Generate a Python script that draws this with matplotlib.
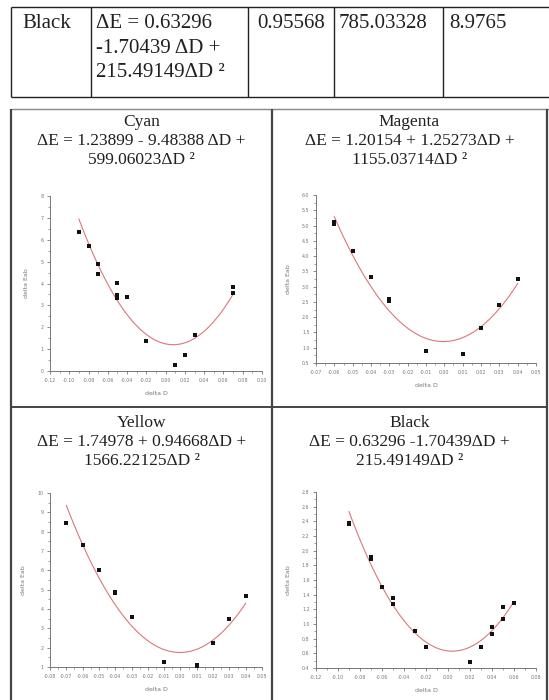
import numpy as np
import matplotlib
matplotlib.use("Agg")
import matplotlib.pyplot as plt
from matplotlib.lines import Line2D
from matplotlib.ticker import MultipleLocator, FormatStrFormatter

W, H = 549, 700

# top table row
row_cells = ["Black", "ΔE = 0.63296\n-1.70439 ΔD +\n215.49149ΔD ²", "0.95568", "785.03328", "8.9765"]

# panel titles
cyan_title = ["Cyan", "ΔE = 1.23899 - 9.48388 ΔD +", "599.06023ΔD ²"]
magenta_title = ["Magenta", "ΔE = 1.20154 + 1.25273ΔD +", "1155.03714ΔD ²"]
yellow_title = ["Yellow", "ΔE = 1.74978 + 0.94668ΔD +", "1566.22125ΔD ²"]
black_title = ["Black", "ΔE = 0.63296 -1.70439ΔD +", "215.49149ΔD ²"]

# fit coefficients (c0, c1, c2)
cyan_fit = [1.23899, -9.48388, 599.06023]
magenta_fit = [1.20154, 1.25273, 1155.03714]
yellow_fit = [1.74978, 0.94668, 1566.22125]
black_fit = [0.63296, -1.70439, 215.49149]

# measured points (delta D, delta Eab)
cyan_x = [-0.09, -0.08, -0.07, -0.07, -0.05, -0.05, -0.05, -0.04, -0.02, 0.01, 0.02, 0.03, 0.07, 0.07]
cyan_y = [6.36, 5.70, 4.89, 4.44, 4.02, 3.48, 3.33, 3.40, 1.35, 0.26, 0.72, 1.66, 3.86, 3.56]

magenta_x = [-0.06, -0.06, -0.05, -0.04, -0.03, -0.03, -0.01, 0.01, 0.02, 0.03, 0.04]
magenta_y = [5.10, 5.05, 4.18, 3.33, 2.58, 2.52, 0.89, 0.78, 1.64, 2.40, 3.24]

yellow_x = [-0.07, -0.06, -0.05, -0.04, -0.04, -0.03, -0.01, 0.01, 0.01, 0.02, 0.03, 0.04]
yellow_y = [8.43, 7.31, 6.03, 4.90, 4.83, 3.59, 1.28, 1.12, 1.06, 2.25, 3.49, 4.67]

black_x = [-0.09, -0.09, -0.07, -0.07, -0.06, -0.05, -0.05, -0.03, -0.02, 0.02, 0.03, 0.04, 0.04, 0.05, 0.05, 0.06]
black_y = [2.38, 2.36, 1.91, 1.89, 1.50, 1.35, 1.27, 0.90, 0.68, 0.48, 0.68, 0.86, 0.96, 1.07, 1.23, 1.28]

SERIF = "Liberation Serif"


def px_line(fig, x0, y0, x1, y1, color="#222222", lw=1.0):
    fig.add_artist(Line2D([x0 / W, x1 / W], [1 - y0 / H, 1 - y1 / H], color=color, lw=lw,
                          transform=fig.transFigure, solid_capstyle="butt"))


def px_text(fig, x, y, s, size, ha="left", va="center", **kw):
    fig.text(x / W, 1 - y / H, s, fontsize=size, ha=ha, va=va, family=SERIF, color="#231f20", **kw)


def panel(fig, box, xs, ys, fit, xlim, ylim, xstep, ystep, xfmt, yfmt):
    l, t, r, b = box
    ax = fig.add_axes([l / W, 1 - b / H, (r - l) / W, (b - t) / H])
    ax.set_xlim(*xlim)
    ax.set_ylim(*ylim)
    grid = np.linspace(min(xs), max(xs), 200)
    ax.plot(grid, fit[0] + fit[1] * grid + fit[2] * grid ** 2, color="#d9787a", lw=0.8)
    ax.scatter(xs, ys, marker="s", s=12, color="#111111", zorder=3, linewidths=0)
    for side in ("top", "right"):
        ax.spines[side].set_visible(False)
    for side in ("left", "bottom"):
        ax.spines[side].set_color("#777777")
        ax.spines[side].set_linewidth(0.7)
    ax.xaxis.set_major_locator(MultipleLocator(xstep))
    ax.xaxis.set_minor_locator(MultipleLocator(xstep / 2))
    ax.yaxis.set_major_locator(MultipleLocator(ystep))
    ax.yaxis.set_minor_locator(MultipleLocator(ystep / 2))
    ax.xaxis.set_major_formatter(FormatStrFormatter(xfmt))
    ax.yaxis.set_major_formatter(FormatStrFormatter(yfmt))
    ax.tick_params(which="major", length=2.2, width=0.6, color="#777777", labelsize=3.4,
                   labelcolor="#777777", pad=2.5)
    ax.tick_params(which="minor", length=1.3, width=0.5, color="#777777")
    ax.set_facecolor("none")
    ax.set_xlabel("delta D", fontsize=4.5, color="#777777", labelpad=6)
    ax.set_ylabel("delta Eab", fontsize=4.5, color="#777777", labelpad=8)
    return ax


fig = plt.figure(figsize=(W / 100, H / 100), dpi=100)

# top table
px_line(fig, 11, 7, W, 7)
px_line(fig, 11, 97, W, 97)
for x in (11, 91, 248, 334, 443):
    px_line(fig, x, 7, x, 97)
cell_x = [22, 96, 257, 339, 449]
for x, s in zip(cell_x, row_cells):
    px_text(fig, x, 14, s, 15, va="top", linespacing=1.4)

# lower table frame
px_line(fig, 11, 109, W, 109, color="#888888")
px_line(fig, 11, 407, 547, 407, color="#444444", lw=1.4)
px_line(fig, 11, 109, 11, H, color="#444444", lw=1.6)
px_line(fig, 272, 109, 272, H, color="#444444", lw=1.6)
px_line(fig, 547, 109, 547, H, color="#444444", lw=1.6)

for cx, top, lines in ((141.5, 122, cyan_title), (409.5, 122, magenta_title),
                       (141.5, 423, yellow_title), (409.5, 423, black_title)):
    for i, s in enumerate(lines):
        px_text(fig, cx, top + 19 * i, s, 12.5, ha="center")

panel(fig, (50, 196, 262, 371), cyan_x, cyan_y, cyan_fit, (-0.12, 0.10), (0, 8), 0.02, 1, "%.2f", "%d")
panel(fig, (316, 195, 536, 363), magenta_x, magenta_y, magenta_fit, (-0.07, 0.05), (0.5, 6.0), 0.01, 0.5, "%.2f", "%.1f")
panel(fig, (50, 493, 262, 667), yellow_x, yellow_y, yellow_fit, (-0.08, 0.05), (1, 10), 0.01, 1, "%.2f", "%d")
panel(fig, (316, 492, 536, 668), black_x, black_y, black_fit, (-0.12, 0.08), (0.4, 2.8), 0.02, 0.2, "%.2f", "%.1f")

fig.savefig("out.png", dpi=100, facecolor="white")
